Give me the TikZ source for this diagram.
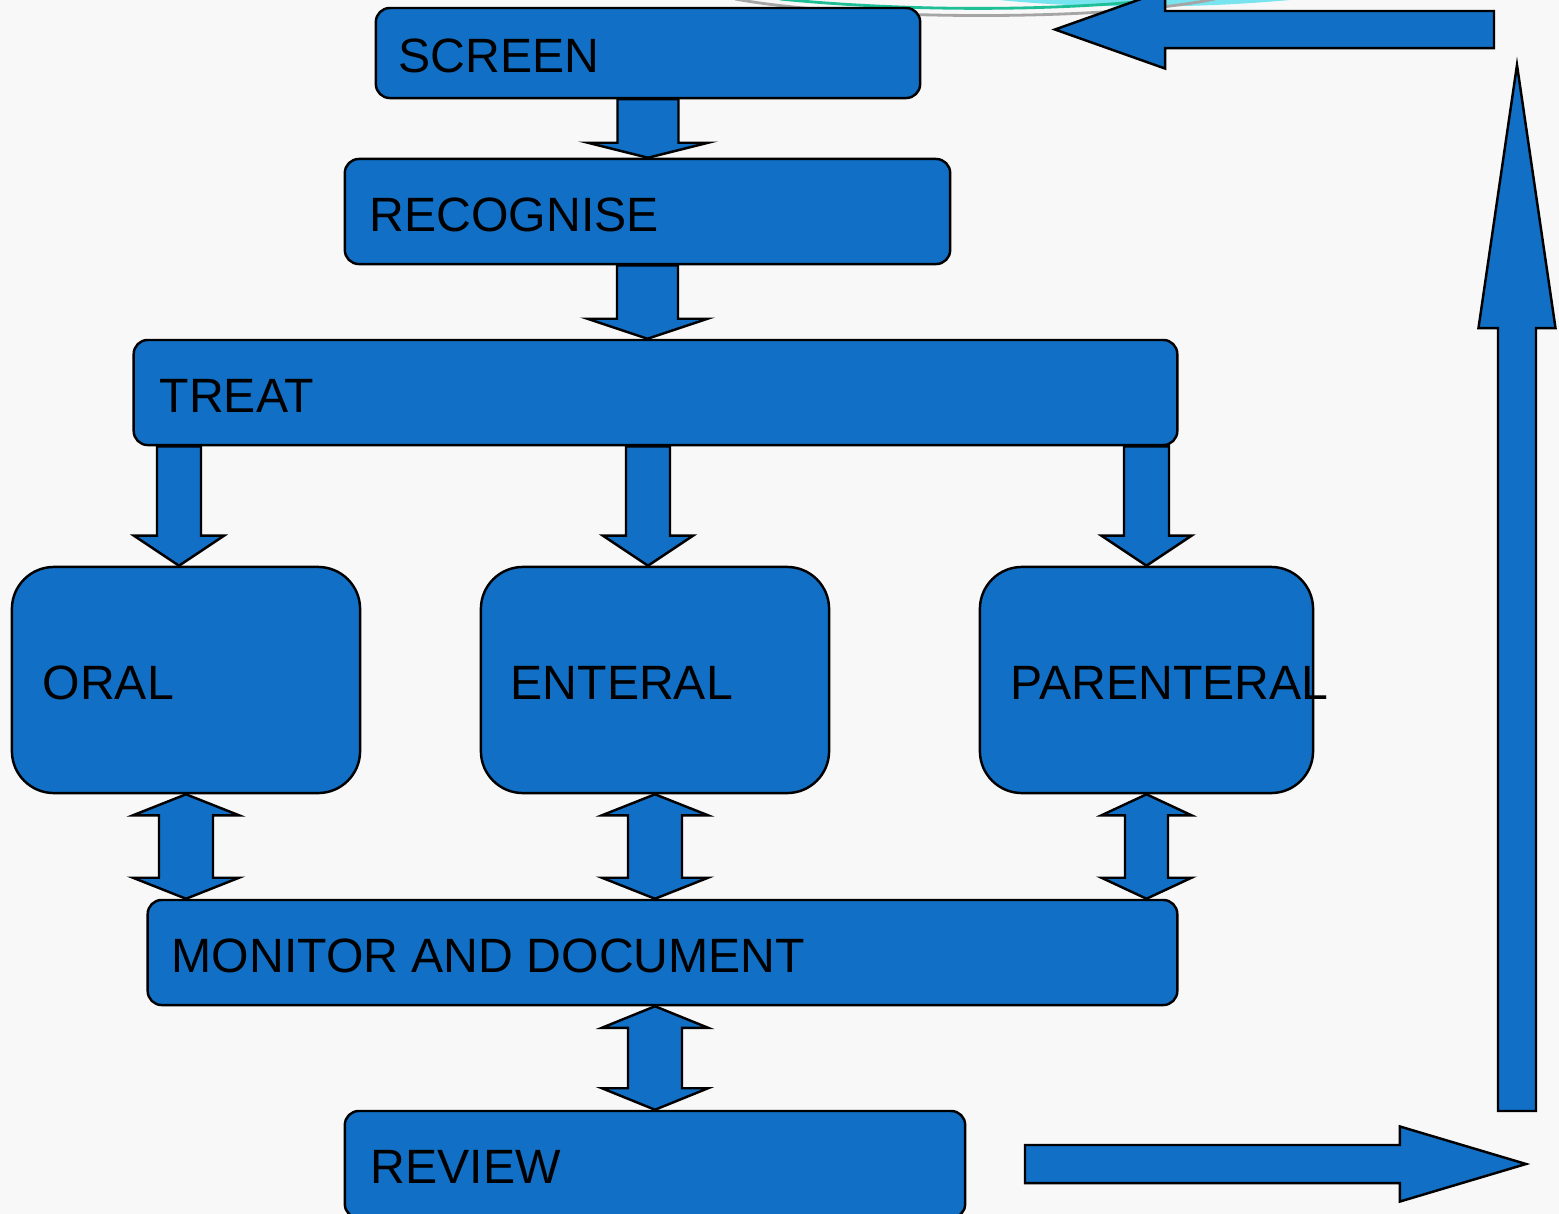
\documentclass[tikz,border=0pt]{standalone}
\usepackage{fontspec}
\setmainfont{Liberation Sans}
\usetikzlibrary{calc}
\definecolor{boxblue}{RGB}{17,112,198}
\definecolor{bgc}{RGB}{248,248,248}
\definecolor{decocyan}{RGB}{120,228,240}
\definecolor{decoteal}{RGB}{30,190,150}
\definecolor{decogrey}{RGB}{165,165,165}
\tikzset{
  box/.style={draw=black, fill=boxblue, line width=0.7pt, rounded corners=0.14cm, inner sep=0pt},
  bigbox/.style={draw=black, fill=boxblue, line width=0.7pt, rounded corners=0.42cm, inner sep=0pt},
  blk/.style={draw=black, fill=boxblue, line width=0.7pt, line join=miter},
  lbl/.style={anchor=base west, inner sep=0pt, text=black, font=\fontsize{13.7}{16}\selectfont},
}
% single block arrow: start, tip, shaft half width, head half width, head length
\newcommand\blkarrow[5]{%
  \path ($(#2)!#5!(#1)$) coordinate (hb);
  \draw[blk] ($(#1)!#3!90:(#2)$) -- ($(hb)!#3!90:(#2)$) -- ($(hb)!#4!90:(#2)$) -- (#2)
     -- ($(hb)!#4!-90:(#2)$) -- ($(hb)!#3!-90:(#2)$) -- ($(#1)!#3!-90:(#2)$) -- cycle;}
% double block arrow: tip1, tip2, shaft half width, head half width, head length
\newcommand\dblarrow[5]{%
  \path ($(#1)!#5!(#2)$) coordinate (ha) ($(#2)!#5!(#1)$) coordinate (hc);
  \draw[blk] (#1) -- ($(ha)!#4!90:(#2)$) -- ($(ha)!#3!90:(#2)$) -- ($(hc)!#3!90:(#2)$)
     -- ($(hc)!#4!90:(#2)$) -- (#2) -- ($(hc)!#4!-90:(#2)$) -- ($(hc)!#3!-90:(#2)$)
     -- ($(ha)!#3!-90:(#2)$) -- ($(ha)!#4!-90:(#2)$) -- cycle;}
\begin{document}
\begin{tikzpicture}[x=0.01cm, y=-0.01cm]
\useasboundingbox (0,0) rectangle (1559,1214);
\clip (0,0) rectangle (1559,1214);
\fill[bgc] (0,0) rectangle (1559,1214);
% decorative template curves at the top
\fill[decocyan] (990,-1) .. controls (1080,9) and (1200,9) .. (1300,-1) -- cycle;
\draw[decogrey, line width=0.8pt] (735,-1) .. controls (850,20) and (1100,22) .. (1215,-1);
\draw[decoteal, line width=0.8pt] (780,-1) .. controls (900,11) and (1050,12) .. (1165,-1);
% boxes
\node[box, minimum width=5.44cm, minimum height=0.90cm] (screen) at (648,53) {};
\node[box, minimum width=6.05cm, minimum height=1.05cm] (recog) at (647.5,211.5) {};
\node[box, minimum width=10.43cm, minimum height=1.05cm] (treat) at (655.5,392.5) {};
\node[bigbox, minimum width=3.48cm, minimum height=2.26cm] (oral) at (186,680) {};
\node[bigbox, minimum width=3.48cm, minimum height=2.26cm] (enteral) at (655,680) {};
\node[bigbox, minimum width=3.33cm, minimum height=2.26cm] (parent) at (1146.5,680) {};
\node[box, minimum width=10.29cm, minimum height=1.05cm] (monitor) at (662.5,952.5) {};
\node[box, minimum width=6.20cm, minimum height=1.07cm] (review) at (655,1164.5) {};
% arrow end points
\coordinate (a1s) at (screen.south);
\coordinate (a1t) at (screen.south |- recog.north);
\coordinate (a2s) at (recog.south);
\coordinate (a2t) at (recog.south |- treat.north);
\coordinate (a3t) at ($(oral.north)+(-7,0)$);
\coordinate (a3s) at (a3t |- treat.south);
\coordinate (a4t) at ($(enteral.north)+(-7,0)$);
\coordinate (a4s) at (a4t |- treat.south);
\coordinate (a5t) at (parent.north);
\coordinate (a5s) at (a5t |- treat.south);
\coordinate (d1a) at (oral.south);
\coordinate (d1b) at (oral.south |- monitor.north);
\coordinate (d2a) at (enteral.south);
\coordinate (d2b) at (enteral.south |- monitor.north);
\coordinate (d3a) at (parent.south);
\coordinate (d3b) at (parent.south |- monitor.north);
\coordinate (d4a) at (review.north |- monitor.south);
\coordinate (d4b) at (review.north);
\coordinate (r1) at (1025,1164);
\coordinate (r2) at (1526,1164);
\coordinate (u1) at (1517,1111);
\coordinate (u2) at (1517,65);
\coordinate (l1) at (1494,29.5);
\coordinate (l2) at (1055,29.5);
% arrows
\blkarrow{a1s}{a1t}{0.305cm}{0.60cm}{0.15cm}
\blkarrow{a2s}{a2t}{0.305cm}{0.60cm}{0.20cm}
\blkarrow{a3s}{a3t}{0.22cm}{0.45cm}{0.30cm}
\blkarrow{a4s}{a4t}{0.22cm}{0.45cm}{0.30cm}
\blkarrow{a5s}{a5t}{0.225cm}{0.45cm}{0.30cm}
\dblarrow{d1a}{d1b}{0.27cm}{0.53cm}{0.21cm}
\dblarrow{d2a}{d2b}{0.27cm}{0.53cm}{0.21cm}
\dblarrow{d3a}{d3b}{0.215cm}{0.45cm}{0.21cm}
\dblarrow{d4a}{d4b}{0.27cm}{0.53cm}{0.215cm}
\blkarrow{r1}{r2}{0.19cm}{0.375cm}{1.26cm}
\blkarrow{u1}{u2}{0.19cm}{0.385cm}{2.63cm}
\blkarrow{l1}{l2}{0.185cm}{0.39cm}{1.10cm}
% labels
\node[lbl] (screenT) at (398,72) {SCREEN};
\node[lbl] (recogT) at (369,231) {RECOGNISE};
\node[lbl] (treatT) at (159,412) {TREAT};
\node[lbl] (oralT) at (42,699) {ORAL};
\node[lbl] (enteralT) at (510,699) {ENTERAL};
\node[lbl] (parentT) at (1010,699) {PARENTERAL};
\node[lbl] (monitorT) at (171,972) {MONITOR AND DOCUMENT};
\node[lbl] (reviewT) at (370,1183) {REVIEW};
\end{tikzpicture}
\end{document}
